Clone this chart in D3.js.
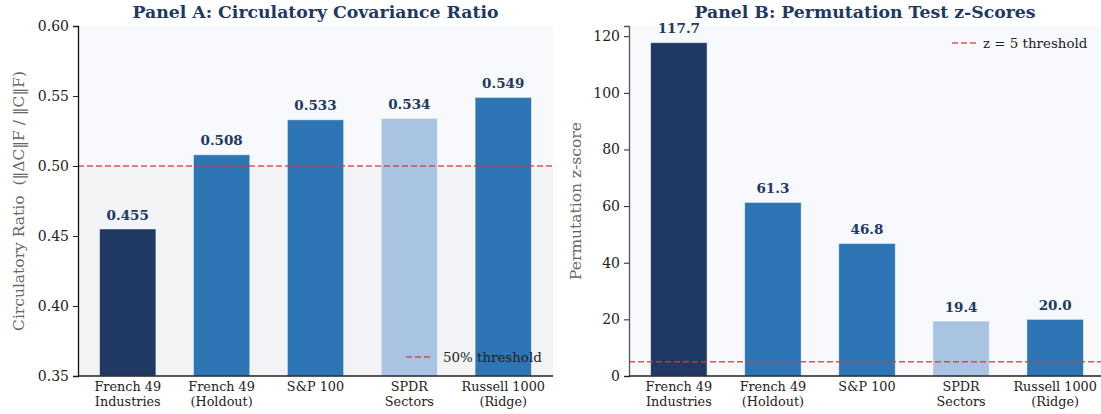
<!DOCTYPE html>
<html lang="en">
<head>
<meta charset="utf-8">
<title>Circulatory covariance panels</title>
<script src="https://d3js.org/d3.v7.min.js"></script>
<style>
    body { margin: 0; background: #fff; }
    svg text { font-family: "DejaVu Serif", serif; white-space: pre; }
</style>
</head>
<body>
<div id="chart"></div>
<script>
    // data
    const categories = [["French 49", "Industries"], ["French 49", "(Holdout)"], ["S&P 100"], ["SPDR", "Sectors"], ["Russell 1000", "(Ridge)"]]
    const ratioValues = [0.455, 0.508, 0.533, 0.534, 0.549]
    const ratioLabels = ["0.455", "0.508", "0.533", "0.534", "0.549"]
    const zValues = [117.7, 61.3, 46.8, 19.4, 20.0]
    const zLabels = ["117.7", "61.3", "46.8", "19.4", "20.0"]
    const ratioTicks = [0.35, 0.40, 0.45, 0.50, 0.55, 0.60]
    const zTicks = [0, 20, 40, 60, 80, 100, 120]
    const barColors = ["#203864", "#2e75b6", "#2e75b6", "#a9c4e2", "#2e75b6"]

    const W = 1101, H = 414
    const svg = d3.select("#chart").append("svg")
        .attr("width", W).attr("height", H)

    const navy = "#203864"
    const red = "#d63a3a"

    function panel(opt) {
        const x = d3.scaleLinear().domain([-0.53, 4.53]).range([opt.left, opt.right])
        const y = d3.scaleLinear().domain(opt.ydomain).range([376, 26])
        const g = svg.append("g")

        // background
        g.append("rect")
            .attr("x", opt.left).attr("y", 26)
            .attr("width", opt.right - opt.left).attr("height", 350)
            .attr("fill", "#f8f9fc")
        if (opt.shadeBelow != null) {
            g.append("rect")
                .attr("x", opt.left).attr("y", y(opt.shadeBelow))
                .attr("width", opt.right - opt.left)
                .attr("height", 376 - y(opt.shadeBelow))
                .attr("fill", "#f2f3f5")
        }

        // bars
        const bw = x(0.3) - x(-0.3)
        g.selectAll(".bar").data(opt.values).enter().append("rect")
            .attr("class", "bar")
            .attr("x", (d, i) => x(i) - bw / 2)
            .attr("y", d => y(d))
            .attr("width", bw)
            .attr("height", d => 376 - y(d))
            .attr("fill", (d, i) => barColors[i])
            .attr("stroke", "#ffffff")
            .attr("stroke-opacity", 0.6)
            .attr("stroke-width", 0.8)

        // value labels
        g.selectAll(".val").data(opt.values).enter().append("text")
            .attr("class", "val")
            .attr("x", (d, i) => x(i))
            .attr("y", d => y(d) - 9.5)
            .attr("text-anchor", "middle")
            .attr("font-size", 13.5)
            .attr("font-weight", "bold")
            .attr("fill", navy)
            .text((d, i) => opt.labels[i])

        // threshold
        g.append("line")
            .attr("x1", opt.left).attr("x2", opt.right)
            .attr("y1", y(opt.threshold)).attr("y2", y(opt.threshold))
            .attr("stroke", red).attr("stroke-opacity", 0.85)
            .attr("stroke-width", 1.5)
            .attr("stroke-dasharray", "6,3")

        // axes
        const yAxis = g.append("g")
            .attr("transform", "translate(" + opt.left + ",0)")
            .call(d3.axisLeft(y).tickValues(opt.ticks).tickSize(5).tickPadding(4)
                .tickFormat(opt.fmt))
        yAxis.select(".domain").attr("stroke", opt.spineColor).attr("stroke-width", 1.3)
        yAxis.selectAll(".tick line").attr("stroke", "#222")
        yAxis.selectAll(".tick text").attr("font-size", 14).attr("fill", "#222")
            .style("font-family", "DejaVu Serif, serif")

        g.append("line")
            .attr("x1", opt.left).attr("x2", opt.right)
            .attr("y1", 376).attr("y2", 376)
            .attr("stroke", "#222").attr("stroke-width", 1.3)

        // category labels
        const cat = g.selectAll(".cat").data(categories).enter().append("text")
            .attr("class", "cat")
            .attr("x", (d, i) => x(i))
            .attr("y", 391)
            .attr("text-anchor", "middle")
            .attr("font-size", 12.8)
            .attr("fill", "#222")
        cat.selectAll("tspan").data(d => d).enter().append("tspan")
            .attr("x", function() { return d3.select(this.parentNode).attr("x") })
            .attr("dy", (d, j) => j === 0 ? 0 : 14.5)
            .text(d => d)

        // title
        g.append("text")
            .attr("x", (opt.left + opt.right) / 2 + opt.titleShift)
            .attr("y", 17.5)
            .attr("text-anchor", "middle")
            .attr("font-size", 17.3)
            .attr("font-weight", "bold")
            .attr("fill", navy)
            .text(opt.title)

        // y label
        g.append("text")
            .attr("transform", "translate(" + opt.ylabelX + "," + opt.ylabelY + ") rotate(-90)")
            .attr("text-anchor", "middle")
            .attr("font-size", opt.ylabelSize)
            .attr("fill", "#666")
            .text(opt.ylabel)

        // legend
        g.append("line")
            .attr("x1", opt.legendX).attr("x2", opt.legendX + 25)
            .attr("y1", opt.legendY).attr("y2", opt.legendY)
            .attr("stroke", red).attr("stroke-opacity", 0.85)
            .attr("stroke-width", 1.5)
            .attr("stroke-dasharray", "6,3")
        g.append("text")
            .attr("x", opt.legendX + opt.legendGap)
            .attr("y", opt.legendY + 5)
            .attr("font-size", 13.4)
            .attr("fill", "#222")
            .text(opt.legendText)
    }

    panel({
        left: 78, right: 553, ydomain: [0.35, 0.60], values: ratioValues, labels: ratioLabels,
        ticks: ratioTicks, fmt: d3.format(".2f"), threshold: 0.5, shadeBelow: 0.5,
        spineColor: "#111", title: "Panel A: Circulatory Covariance Ratio", titleShift: 0,
        ylabel: "Circulatory Ratio  (\u2016\u0394C\u2016F / \u2016C\u2016F)", ylabelX: 24, ylabelY: 201, ylabelSize: 15.5,
        legendX: 406, legendY: 357, legendGap: 37, legendText: "50% threshold"
    })

    panel({
        left: 629, right: 1105, ydomain: [0, 123.6], values: zValues, labels: zLabels,
        ticks: zTicks, fmt: d3.format("d"), threshold: 5, shadeBelow: null,
        spineColor: "#555", title: "Panel B: Permutation Test z-Scores", titleShift: -2,
        ylabel: "Permutation z-score", ylabelX: 581, ylabelY: 201, ylabelSize: 15.5,
        legendX: 952, legendY: 43, legendGap: 31, legendText: "z = 5 threshold"
    })
</script>
</body>
</html>
